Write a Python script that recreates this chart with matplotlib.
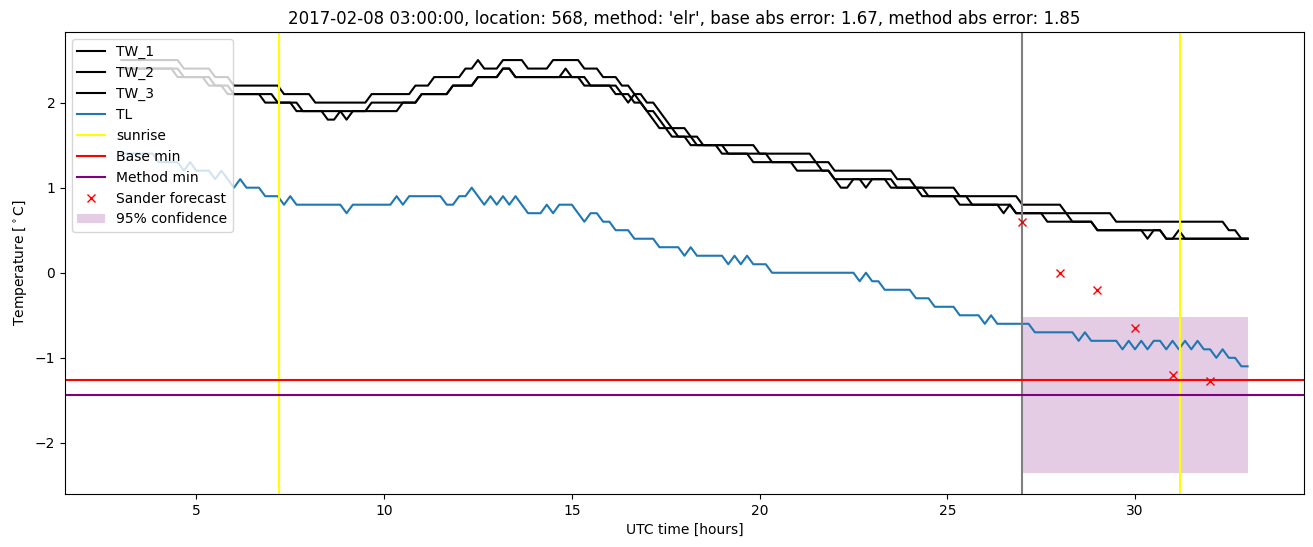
import matplotlib
matplotlib.use("Agg")
import matplotlib.pyplot as plt
import numpy as np

# 10-minute samples from 03:00 to 33:00 (hours since midnight UTC)
hours = np.linspace(3, 33, 181)

# runs of (value, number of samples)
tw1_runs = [(2.5, 10), (2.4, 5), (2.3, 3), (2.2, 8), (2.1, 5), (2.0, 9), (2.1, 7),
            (2.2, 3), (2.3, 5), (2.4, 2), (2.5, 1), (2.4, 3), (2.5, 4), (2.4, 4),
            (2.5, 5), (2.4, 3), (2.3, 3), (2.2, 2), (2.1, 2), (2.0, 2), (1.9, 1),
            (1.8, 1), (1.7, 3), (1.6, 2), (1.5, 9), (1.4, 9), (1.3, 3), (1.2, 10),
            (1.1, 3), (1.0, 7), (0.9, 10), (0.8, 7), (0.7, 8), (0.6, 18), (0.5, 2),
            (0.4, 2)]
tw2_runs = [(2.4, 9), (2.3, 5), (2.2, 3), (2.1, 6), (2.0, 5), (1.9, 5), (1.8, 2),
            (1.9, 5), (2.0, 8), (2.1, 5), (2.2, 4), (2.3, 4), (2.4, 2), (2.3, 8),
            (2.4, 1), (2.3, 2), (2.2, 5), (2.1, 2), (2.0, 1), (2.1, 1), (2.0, 1),
            (1.9, 1), (1.8, 1), (1.7, 2), (1.6, 3), (1.5, 5), (1.4, 5), (1.3, 7),
            (1.2, 6), (1.1, 1), (1.0, 2), (1.1, 6), (1.0, 5), (0.9, 6), (0.8, 7),
            (0.7, 1), (0.8, 1), (0.7, 5), (0.6, 8), (0.5, 8), (0.4, 1), (0.5, 2),
            (0.4, 14)]
tw3_runs = [(2.4, 10), (2.3, 5), (2.2, 3), (2.1, 7), (2.0, 4), (1.9, 7), (1.8, 1),
            (1.9, 8), (2.0, 3), (2.1, 5), (2.2, 4), (2.3, 4), (2.4, 2), (2.3, 12),
            (2.2, 5), (2.1, 2), (2.0, 2), (1.9, 2), (1.8, 1), (1.7, 2), (1.6, 3),
            (1.5, 5), (1.4, 7), (1.3, 8), (1.2, 2), (1.1, 5), (1.0, 1), (1.1, 4),
            (1.0, 5), (0.9, 7), (0.8, 7), (0.7, 9), (0.6, 4), (0.5, 11), (0.4, 2),
            (0.5, 1), (0.4, 11)]
tl_runs = [(1.4, 6), (1.3, 4), (1.2, 1), (1.3, 1), (1.2, 3), (1.1, 1), (1.2, 1),
           (1.1, 1), (1.0, 1), (1.1, 1), (1.0, 3), (0.9, 3), (0.8, 1), (0.9, 1),
           (0.8, 8), (0.7, 1), (0.8, 7), (0.9, 1), (0.8, 1), (0.9, 6), (0.8, 2),
           (0.9, 2), (1.0, 1), (0.9, 1), (0.8, 1), (0.9, 1), (0.8, 1), (0.9, 1),
           (0.8, 1), (0.9, 1), (0.8, 1), (0.7, 3), (0.8, 1), (0.7, 1), (0.8, 3),
           (0.7, 1), (0.6, 1), (0.7, 2), (0.6, 2), (0.5, 3), (0.4, 4), (0.3, 4),
           (0.2, 1), (0.3, 1), (0.2, 5), (0.1, 1), (0.2, 1), (0.1, 1), (0.2, 1),
           (0.1, 3), (0.0, 14), (-0.1, 1), (0.0, 1), (-0.1, 2), (-0.2, 5),
           (-0.3, 3), (-0.4, 4), (-0.5, 4), (-0.6, 1), (-0.5, 1), (-0.6, 6),
           (-0.7, 7), (-0.8, 1), (-0.7, 1), (-0.8, 5), (-0.9, 1), (-0.8, 1),
           (-0.9, 1), (-0.8, 1), (-0.9, 1), (-0.8, 2), (-0.9, 1), (-0.8, 1),
           (-0.9, 1), (-0.8, 1), (-0.9, 1), (-0.8, 1), (-0.9, 2), (-1.0, 1),
           (-0.9, 1), (-1.0, 2), (-1.1, 2)]

sunrise_hours = [7.2, 31.2]
forecast_time = 27
base_min = -1.26
method_min = -1.44
sander_hours = [27, 28, 29, 30, 31, 32]
sander_values = [0.6, 0.0, -0.2, -0.65, -1.2, -1.27]
conf_low, conf_high = -2.35, -0.52
conf_end = 33


def expand(runs):
    return np.concatenate([np.full(n, v) for v, n in runs])


tw1 = expand(tw1_runs)
tw2 = expand(tw2_runs)
tw3 = expand(tw3_runs)
tl = expand(tl_runs)

fig = plt.figure(figsize=(13.13, 5.47), dpi=100)
ax = fig.add_axes([0.0495, 0.097, 0.9436, 0.8445])

ax.plot(hours, tw1, color='black', label='TW_1')
ax.plot(hours, tw2, color='black', label='TW_2')
ax.plot(hours, tw3, color='black', label='TW_3')
ax.plot(hours, tl, color='tab:blue', label='TL')
for k, s in enumerate(sunrise_hours):
    ax.axvline(s, color='yellow', label='sunrise' if k == 0 else None)
ax.axvline(forecast_time, color='gray')
ax.axhline(base_min, color='red', label='Base min')
ax.axhline(method_min, color='purple', label='Method min')
ax.plot(sander_hours, sander_values, 'x', color='red', label='Sander forecast')
ax.fill_between([forecast_time, conf_end], conf_low, conf_high, color='purple',
                alpha=0.2, linewidth=0, label='95% confidence')

ax.set_ylim(-2.6, 2.83)
ax.set_xlabel('UTC time [hours]')
ax.set_ylabel(r'Temperature [$^\circ$C]')
ax.set_title("2017-02-08 03:00:00, location: 568, method: 'elr', "
             "base abs error: 1.67, method abs error: 1.85")
ax.legend(loc='upper left')

fig.savefig('out.png', dpi=100)
